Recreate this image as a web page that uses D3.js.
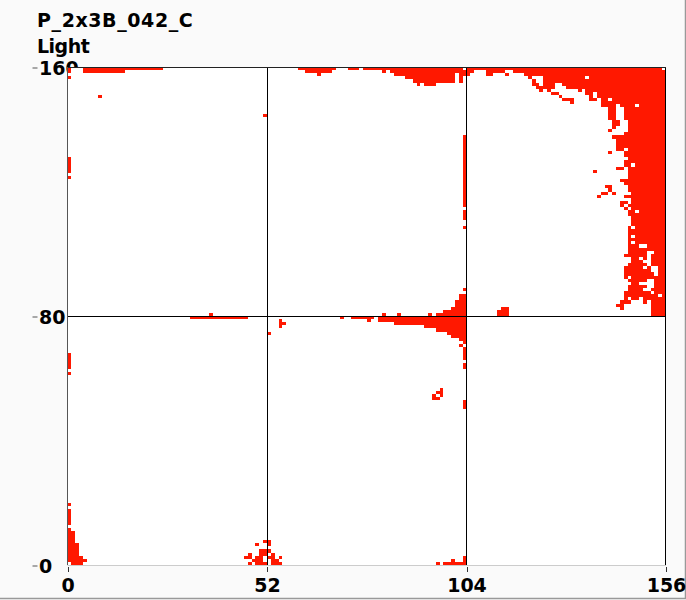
<!DOCTYPE html>
<html><head><meta charset="utf-8">
<script src="https://cdn.jsdelivr.net/npm/d3@7/dist/d3.min.js"></script>
<style>html,body{margin:0;padding:0;background:#fafafa;overflow:hidden}svg{display:block}
text{font-family:"DejaVu Sans",sans-serif;font-weight:bold;fill:#000}</style></head><body>
<script>
const chartTitle = "P_2x3B_042_C";
const chartSubtitle = "Light";
const xTicks = [0, 52, 104, 156];
const yTicks = [0, 80, 160];
// Cells above threshold. Each row: [rows down from the top (y = 159 - t), x0, x1, x0, x1, ...]
const cornerCells = [
[0,104,154],[1,104,105,109,113,116,155],[2,104,104,109,110,114,114,119,155],[3,120,120,124,134,136,155],
[4,121,121,124,155],[5,121,122,124,126,129,155],[6,122,126,130,155],[7,123,123,125,125,133,133,135,155],
[8,126,127,135,136,138,155],[9,128,128,136,136,138,155],[10,129,131,136,137,139,140,142,155],[11,131,131,139,155],
[12,139,142,144,147,149,155],[13,141,142,145,155],[14,141,142,145,155],[15,141,142,145,155],[16,141,142,145,155],
[17,142,143,146,155],[18,142,143,146,155],[19,142,142,146,155],[20,141,141,146,155],[21,145,155],[22,142,155],
[23,143,155],[24,143,155],[25,143,155],[26,143,144,146,155],[27,141,141,145,155],[28,145,155],[29,146,155],
[30,145,155],[31,145,146,148,155],[32,143,144,146,155],[33,137,137,146,155],[34,146,155],[35,146,155],[36,144,155],
[37,145,155],[38,140,141,146,155],[39,141,141,146,155],[40,139,140,142,142,147,155],[41,138,138,145,155],[42,147,155],
[43,144,145,147,155],[44,144,144,146,155],[45,145,145,147,155],[46,146,147,149,155],[47,146,155],[48,147,155],
[49,147,155],[50,147,155],[51,146,146,148,155],[52,146,155],[53,146,155],[54,146,146,148,155],[55,146,155],
[56,146,146,148,155],[57,146,148,151,155],[58,146,155],[59,146,150,153,155],[60,145,150,152,155],
[61,147,148,150,150,152,155],[62,147,149,152,155],[63,146,150,152,155],[64,145,149,151,151,154,155],[65,145,151,154,155],
[66,145,152,154,155],[67,145,145,147,155],[68,146,150,153,155],[69,147,148,153,155],[70,146,150,153,155],
[71,146,149,152,155],[72,145,151,153,155],[73,145,153,155,155],[74,145,145,147,148,150,155],[75,144,146,150,150,152,155],
[76,143,144,152,155],[77,144,144,152,155],[78,152,155],[79,152,155]
];
const topCells = [
[0,0,0,4,24,60,69,73,75,77,79,80,102],[1,0,0,4,14,62,64,65,68,82,82,84,103],[2,65,65,85,100,102,103],
[3,0,0,88,100,102,102],[4,90,100,102,102],[5,91,91,93,95],[9,8,8],[15,51,51]
];
const crossCells = [
[71,103,103],[73,102,103],[74,102,103],[75,101,103],[76,101,103],[77,100,103,113,114],[78,98,103,112,114],
[79,37,37,82,82,86,86,94,94,96,103,112,114],[80,32,46,71,71,74,79,81,103],[81,55,55,78,78,81,103],
[82,55,56,85,103],[83,55,55,93,103],[84,96,103],[85,52,52,99,103],[86,100,103],[87,102,103],[88,103,103],
[89,102,102],[90,103,103],[91,103,103],[92,103,103],[93,103,103],[95,103,103],[96,103,103],
[103,97,97],[104,96,97],[105,95,95,97,97],[106,95,96],[107,103,103],[108,103,103],[109,103,103]
];
const edgeCells = [
[22,103,103],[23,103,103],[24,103,103],[25,103,103],[26,103,103],[27,103,103],[28,103,103],[29,0,0,103,103],
[30,0,0,103,103],[31,0,0,103,103],[32,0,0,103,103],[33,0,0,103,103],[34,103,103],[35,0,0,103,103],[36,103,103],
[37,103,103],[38,103,103],[39,103,103],[40,103,103],[41,103,103],[42,103,103],[43,103,103],[44,103,103],
[46,103,103],[47,103,103],[48,103,103],[51,103,103],
[92,0,0],[93,0,0],[94,0,0],[95,0,0],[96,0,0],[98,0,0]
];
const bottomCells = [
[140,0,0],[142,0,0],[143,0,0],[144,0,0],[145,0,0],[146,0,0],[148,0,0],[149,0,1],[150,0,1],[151,0,1],
[152,0,1,51,52],[153,0,2,49,49,52,52],[154,0,2],[155,0,2,50,52],[156,0,2,47,47,50,51,53,53],
[157,0,3,46,47,49,50,52,53,55,55,103,103],[158,0,4,48,50,53,54,100,100,103,103],
[159,1,3,47,47,49,51,53,55,96,96,98,103]
];

const W = 686, H = 600;
const svg = d3.select("body").append("svg").attr("width", W).attr("height", H);
svg.append("rect").attr("width", W).attr("height", H).attr("fill", "#fafafa");
svg.append("path").attr("d", `M685.5,0V598.5H0`).attr("fill", "none").attr("stroke", "#999").attr("stroke-width", 1.5);

const x = d3.scaleLinear().domain([0, 156]).range([67.5, 666]);
const y = d3.scaleLinear().domain([0, 160]).range([565, 67]);

svg.append("text").attr("x", 37).attr("y", 27).style("font-size", "19px").style("letter-spacing", "0.6px").text(chartTitle);
svg.append("text").attr("x", 37).attr("y", 53).style("font-size", "19px").style("letter-spacing", "-0.5px").text(chartSubtitle);

const yAxis = svg.append("g").attr("transform", "translate(37.5,0.5)")
  .call(d3.axisLeft(y).tickValues(yTicks).tickSize(5).tickFormat(d3.format("d")));
yAxis.select(".domain").remove();
yAxis.selectAll("text").attr("text-anchor", "start").attr("x", 1.5).attr("dy", "0.36em").style("font-size", "19px");
yAxis.selectAll("line").attr("stroke", "#555");

svg.append("rect").attr("x", x(0)).attr("y", y(160)).attr("width", x(156) - x(0)).attr("height", y(0) - y(160)).attr("fill", "#fff");

const allRows = [...cornerCells, ...topCells, ...crossCells, ...edgeCells, ...bottomCells];
const runs = allRows.flatMap(r => {
  const out = [];
  for (let i = 1; i < r.length; i += 2) out.push({ row: 159 - r[0], x0: r[i], x1: r[i + 1] });
  return out;
});
svg.append("g").attr("shape-rendering", "crispEdges").selectAll("rect").data(runs).join("rect")
  .attr("x", d => x(d.x0)).attr("width", d => x(d.x1 + 1) - x(d.x0))
  .attr("y", d => y(d.row + 1)).attr("height", d => y(d.row) - y(d.row + 1))
  .attr("fill", "#ff1800");

svg.append("g").selectAll("line").data([52, 104]).join("line")
  .attr("x1", d => Math.floor(x(d)) + 0.5).attr("x2", d => Math.floor(x(d)) + 0.5).attr("y1", y(160)).attr("y2", y(0)).attr("stroke", "#000");
svg.append("line").attr("x1", x(156) - 0.5).attr("x2", x(156) - 0.5).attr("y1", y(160)).attr("y2", y(0)).attr("stroke", "#000");
svg.append("line").attr("x1", x(0)).attr("x2", x(156)).attr("y1", Math.round(y(80)) + 0.5).attr("y2", Math.round(y(80)) + 0.5).attr("stroke", "#000");
svg.append("line").attr("x1", x(0)).attr("x2", x(156)).attr("y1", 67.5).attr("y2", 67.5).attr("stroke", "#222");
svg.append("line").attr("x1", 67.5).attr("x2", 67.5).attr("y1", 67).attr("y2", 565).attr("stroke", "#555");
svg.append("line").attr("x1", x(0)).attr("x2", x(156)).attr("y1", 565.5).attr("y2", 565.5).attr("stroke", "#ccc");

const xAxis = svg.append("g").attr("transform", "translate(0,566.5)")
  .call(d3.axisBottom(x).tickValues(xTicks).tickSize(5).tickFormat(d3.format("d")));
xAxis.select(".domain").remove();
xAxis.selectAll("text").attr("y", 25).attr("dy", 0).style("font-size", "19px");
xAxis.selectAll("line").attr("stroke", "#333").attr("shape-rendering", "crispEdges");
</script></body></html>
